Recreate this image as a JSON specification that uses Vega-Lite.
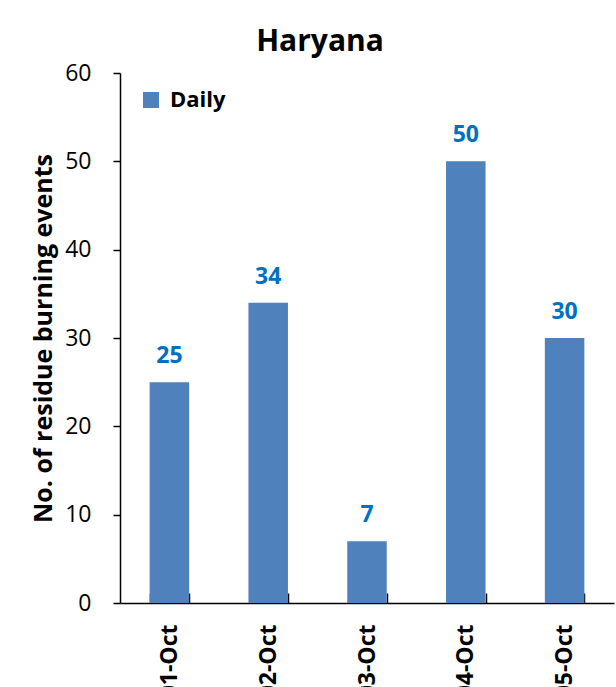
{
  "$schema": "https://vega.github.io/schema/vega-lite/v6.json",
  "autosize": "none",
  "padding": {"left": 120, "top": 73, "right": 2, "bottom": 84},
  "width": 494,
  "height": 530,
  "background": "white",
  "title": {"text": "Haryana", "font": "Open Sans", "fontSize": 30, "fontWeight": "bold", "color": "black", "anchor": "middle", "dx": -47, "offset": 5},
  "config": {"view": {"stroke": null}, "font": "Open Sans"},
  "data": {"values": [
    {"date": "01-Oct", "events": 25, "series": "Daily"},
    {"date": "02-Oct", "events": 34, "series": "Daily"},
    {"date": "03-Oct", "events": 7, "series": "Daily"},
    {"date": "04-Oct", "events": 50, "series": "Daily"},
    {"date": "05-Oct", "events": 30, "series": "Daily"}
  ]},
  "encoding": {
    "x": {"field": "date", "type": "nominal", "sort": null,
      "scale": {"paddingInner": 0.6, "paddingOuter": 0.3},
      "axis": {"title": null, "labelAngle": -90, "labelFont": "Open Sans", "labelFontSize": 23, "labelFontWeight": "bold", "labelColor": "black", "labelPadding": 31, "domainColor": "black", "domainWidth": 1.5, "tickColor": "black", "tickSize": -10, "tickWidth": 1.5, "tickBand": "extent"}},
    "y": {"field": "events", "type": "quantitative",
      "scale": {"domain": [0, 60]},
      "axis": {"title": "No. of residue burning events", "values": [0, 10, 20, 30, 40, 50, 60], "grid": false, "titleFont": "Open Sans", "titleFontSize": 25, "titleFontWeight": "bold", "titleColor": "black", "titlePadding": 8, "labelFont": "Open Sans", "labelFontSize": 23, "labelColor": "black", "labelPadding": 22, "domainColor": "black", "domainWidth": 1.5, "tickColor": "black", "tickSize": 7, "tickWidth": 1.5}}
  },
  "layer": [
    {"mark": {"type": "bar", "color": "#4F81BD"},
     "encoding": {"color": {"field": "series", "type": "nominal", "scale": {"range": ["#4F81BD"]},
       "legend": {"title": null, "orient": "none", "legendX": 20, "legendY": 16, "symbolType": "square", "symbolSize": 256, "symbolStrokeWidth": 0, "labelFont": "Open Sans", "labelFontSize": 22, "labelFontWeight": "bold", "labelColor": "black", "labelOffset": 8}}}},
    {"mark": {"type": "text", "dy": -26, "font": "Open Sans", "fontSize": 23, "fontWeight": "bold", "color": "#0070C0"},
     "encoding": {"text": {"field": "events", "type": "quantitative"}}}
  ]
}
